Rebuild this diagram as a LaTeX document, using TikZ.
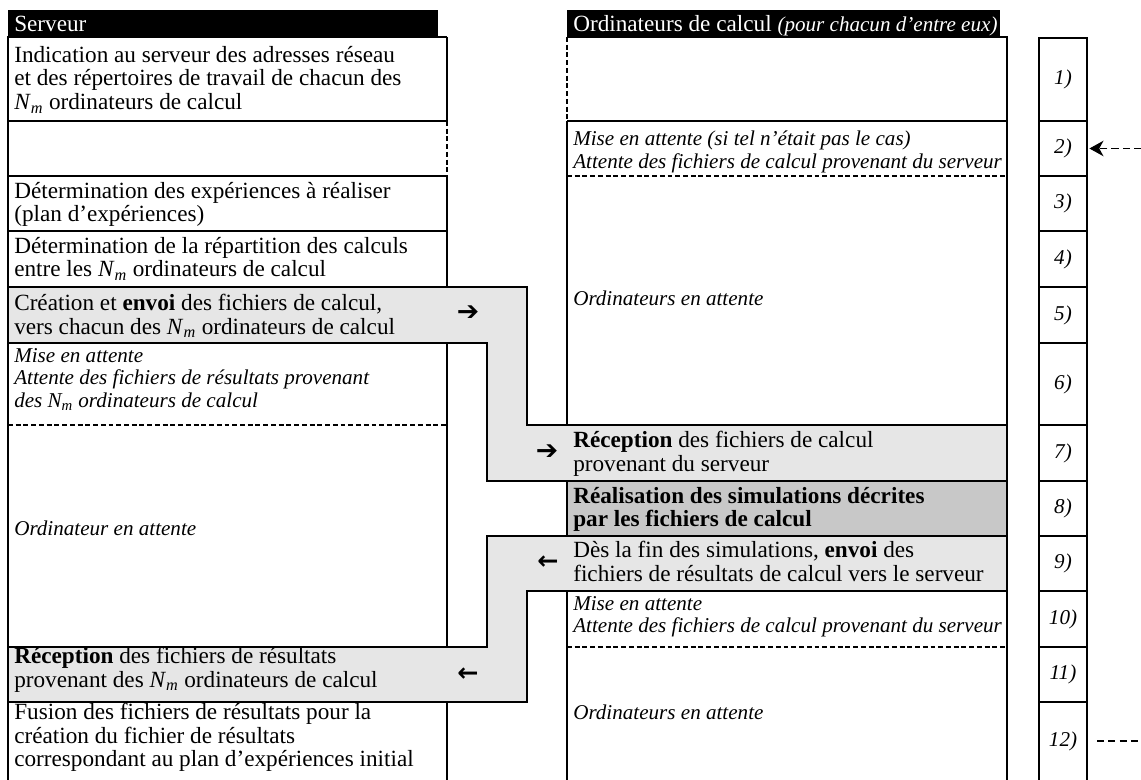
\documentclass[tikz,border=0pt]{standalone}
\usepackage{fontspec}
\setmainfont{Liberation Serif}
\newfontfamily\dejavu{DejaVu Sans}
\usepackage{tikz}
\usetikzlibrary{arrows.meta, positioning}
\definecolor{ExchangeGray}{RGB}{230,230,230}
\definecolor{SimuGray}{RGB}{200,200,200}
\newcommand{\Nm}{\textit{N}\textsubscript{\textit{m}}}

\begin{document}
\begin{tikzpicture}[x=0.025cm, y=-0.025cm,
		rule/.style={line width=1.4pt},
		dashrule/.style={line width=1.2pt, dash pattern=on 3.5pt off 2pt},
		cell/.style={anchor=north west, inner sep=0pt, align=left, font=\fontsize{16.5}{16.7}\selectfont, execute at begin node=\strut},
		icell/.style={cell, font=\fontsize{15}{16}\selectfont\itshape},
		wait/.style={anchor=west, inner sep=0pt, font=\fontsize{15}{16}\selectfont\itshape, execute at begin node=\strut},
		head/.style={anchor=base west, inner sep=0pt, text=white, font=\fontsize{16.5}{16.7}\selectfont},
		stepnum/.style={inner sep=0pt, minimum width=1.2cm, font=\fontsize{15}{16}\selectfont\itshape},
		glyph/.style={inner sep=0pt, font=\dejavu\fontsize{19}{19}\selectfont},
		backglyph/.style={inner sep=0pt, font=\dejavu\bfseries\fontsize{18}{18}\selectfont},
		link/.style={line width=1.1pt, dash pattern=on 5pt off 3pt}]
	\useasboundingbox (0,0) rectangle (1141,780);
	% en-tetes
	\fill (8,10) rectangle (438,37);
	\fill (567,10) rectangle (1000,37);
	\node[head] (srvhead) at (14,32) {Serveur};
	\node[head] (calchead) at (573,32) {Ordinateurs de calcul {\fontsize{15}{16}\selectfont\itshape (pour chacun d'entre eux)}};
	% blocs d'echange de fichiers
	\filldraw[rule, fill=ExchangeGray] (8,287) -- (527,287) -- (527,425) -- (1007,425) -- (1007,481) -- (487,481) -- (487,343) -- (8,343) -- cycle;
	\filldraw[rule, fill=ExchangeGray] (487,536) -- (1007,536) -- (1007,591) -- (527,591) -- (527,702) -- (8,702) -- (8,647) -- (487,647) -- cycle;
	\filldraw[rule, fill=SimuGray] (567,481) rectangle (1007,536);
	% colonne serveur
	\draw[rule] (447,37) -- (8,37) -- (8,780);
	\draw[rule] (8,121) -- (447,121) (8,176) -- (447,176) (8,231) -- (447,231);
	\draw[rule] (447,37) -- (447,121) (447,176) -- (447,287) (447,343) -- (447,647) (447,702) -- (447,780);
	\draw[dashrule] (447,121) -- (447,176) (8,425) -- (447,425);
	% colonne ordinateurs de calcul
	\draw[rule] (567,37) -- (1007,37) -- (1007,780);
	\draw[rule] (567,121) -- (1007,121) (567,121) -- (567,425) (567,591) -- (567,780);
	\draw[dashrule] (567,37) -- (567,121) (567,176) -- (1007,176) (567,647) -- (1007,647);
	% colonne des etapes
	\draw[rule] (1039,780) -- (1039,38) -- (1087,38) -- (1087,780);
	\draw[rule] (1039,121) -- (1087,121) (1039,176) -- (1087,176) (1039,231) -- (1087,231)
		(1039,287) -- (1087,287) (1039,343) -- (1087,343) (1039,425) -- (1087,425)
		(1039,481) -- (1087,481) (1039,536) -- (1087,536) (1039,591) -- (1087,591)
		(1039,647) -- (1087,647) (1039,702) -- (1087,702);

	\node[cell] (srv1) at (14,46) {Indication au serveur des adresses réseau\\et des répertoires de travail de chacun des\\\Nm{} ordinateurs de calcul};
	\node[cell] (srv3) at (14,182) {Détermination des expériences à réaliser\\(plan d'expériences)};
	\node[cell] (srv4) at (14,237) {Détermination de la répartition des calculs\\entre les \Nm{} ordinateurs de calcul};
	\node[cell] (srv5) at (14,294) {Création et \textbf{envoi} des fichiers de calcul,\\vers chacun des \Nm{} ordinateurs de calcul};
	\node[icell] (srv6) at (14,348) {Mise en attente\\Attente des fichiers de résultats provenant\\des N\textsubscript{m} ordinateurs de calcul};
	\node[wait] (srv7) at (14,531) {Ordinateur en attente};
	\node[cell] (srv11) at (14,647) {\textbf{Réception} des fichiers de résultats\\provenant des \Nm{} ordinateurs de calcul};
	\node[cell] (srv12) at (14,703) {Fusion des fichiers de résultats pour la\\création du fichier de résultats\\correspondant au plan d'expériences initial};

	\node[icell] (calc2) at (573,131) {Mise en attente (si tel n'était pas le cas)\\Attente des fichiers de calcul provenant du serveur};
	\node[wait] (calc3) at (573,301) {Ordinateurs en attente};
	\node[cell] (calc7) at (573,431) {\textbf{Réception} des fichiers de calcul\\provenant du serveur};
	\node[cell, font=\fontsize{16.5}{16.7}\selectfont\bfseries] (calc8) at (573,487) {Réalisation des simulations décrites\\par les fichiers de calcul};
	\node[cell] (calc9) at (573,541) {Dès la fin des simulations, \textbf{envoi} des\\fichiers de résultats de calcul vers le serveur};
	\node[icell] (calc10) at (573,596) {Mise en attente\\Attente des fichiers de calcul provenant du serveur};
	\node[wait] (calc11) at (573,715) {Ordinateurs en attente};

	\node[stepnum] (n1) at (1063,79.5) {1)};
	\node[stepnum] (n2) at (1063,148.5) {2)};
	\node[stepnum] (n3) at (1063,203.5) {3)};
	\node[stepnum] (n4) at (1063,259) {4)};
	\node[stepnum] (n5) at (1063,315) {5)};
	\node[stepnum] (n6) at (1063,384) {6)};
	\node[stepnum] (n7) at (1063,453) {7)};
	\node[stepnum] (n8) at (1063,508.5) {8)};
	\node[stepnum] (n9) at (1063,563.5) {9)};
	\node[stepnum] (n10) at (1063,619) {10)};
	\node[stepnum] (n11) at (1063,674.5) {11)};
	\node[stepnum] (n12) at (1063,741) {12)};

	\node[glyph] (send1) at (468,313) {➔};
	\node[glyph] (send2) at (547,452) {➔};
	\node[backglyph] (back1) at (548,563) {←};
	\node[backglyph] (back2) at (468,675) {←};

	\coordinate (fromright) at (1141,148.5);
	\coordinate (toright) at (1141,741);
	\draw[link, -{Stealth[length=10pt, width=11pt, inset=3pt]}, shorten >=1.5pt] (fromright) -- (n2);
	\draw[link, shorten <=7pt] (n12) -- (toright);
\end{tikzpicture}
\end{document}
